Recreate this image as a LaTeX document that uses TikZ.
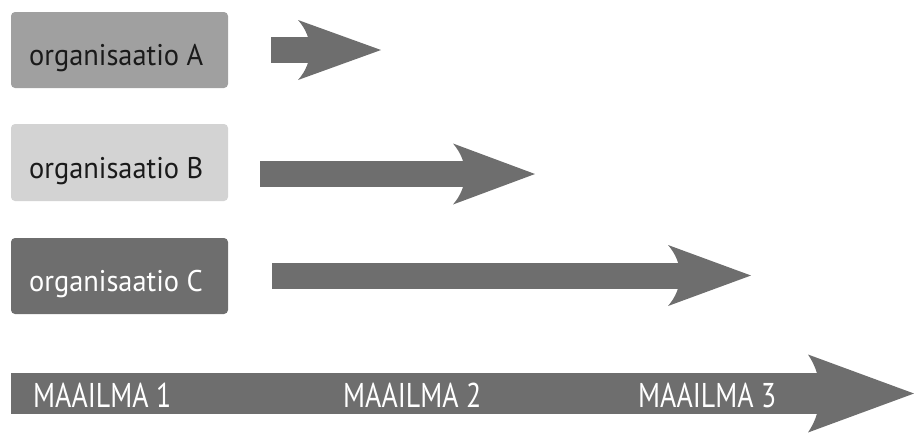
\documentclass[tikz,border=0pt]{standalone}
\usepackage{fontspec}
\setmainfont{PT Sans}
\newfontfamily\orgfont{PT Sans}[FakeStretch=0.95]
\newfontfamily\condfont{PT Sans}[FakeStretch=0.81]
\definecolor{boxA}{HTML}{A0A0A0}
\definecolor{boxB}{HTML}{D3D3D3}
\definecolor{boxC}{HTML}{6E6E6E}
\definecolor{arrowgray}{HTML}{6E6E6E}
\definecolor{darktext}{HTML}{1A1A1A}
% #1 start x, #2 head back x, #3 tip x, #4 centre y, #5 shaft half height, #6 head half height, #7 name
\newcommand\myfatarrow[7]{%
  \fill[arrowgray] (#1,#4-#5) rectangle (#2+20,#4+#5);
  \fill[arrowgray] (#2,#4-#6) -- (#3,#4) coordinate (#7) -- (#2,#4+#6)
    .. controls (#2+16,#4+0.4*#6) and (#2+16,#4-0.4*#6) .. (#2,#4-#6) -- cycle;
}
\tikzset{
  orgbox/.style={rounded corners=4bp, draw=none},
  orglabel/.style={anchor=base west, inner sep=0pt, font=\fontsize{30}{34}\selectfont\orgfont},
  worldlabel/.style={anchor=base west, inner sep=0pt, text=white, font=\fontsize{34.5}{40}\selectfont\condfont},
}
\begin{document}
\begin{tikzpicture}[x=1bp,y=-1bp]
\useasboundingbox (0,0) rectangle (914,432);
% boxes
\fill[orgbox, boxA] (11,12) rectangle (228,88);
\fill[orgbox, boxB] (11,124) rectangle (228,201);
\fill[orgbox, boxC] (11,238) rectangle (228,314);
\node[orglabel, text=darktext] (la) at (29,65) {organisaatio A};
\node[orglabel, text=darktext] (lb) at (29,178) {organisaatio B};
\node[orglabel, text=white] (lc) at (29,291) {organisaatio C};
% arrows
\myfatarrow{271}{298}{381}{50}{13}{30}{ta}
\myfatarrow{260}{453}{535}{174}{13}{30.5}{tb}
\myfatarrow{272}{668}{751}{275.5}{13}{30.5}{tc}
\myfatarrow{11}{808}{914}{393.5}{20.5}{39}{tw}
% world labels
\node[worldlabel] (w1) at (33,407) {MAAILMA 1};
\node[worldlabel] (w2) at (343,407) {MAAILMA 2};
\node[worldlabel] (w3) at (638,407) {MAAILMA 3};
\end{tikzpicture}
\end{document}
